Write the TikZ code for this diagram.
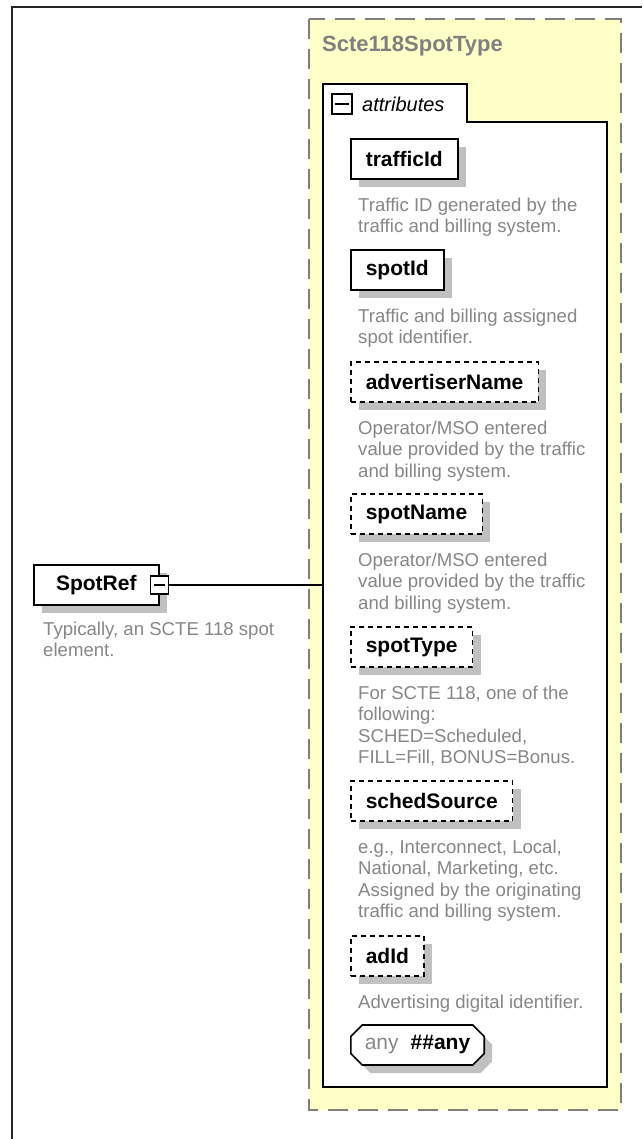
\documentclass[tikz,border=0pt]{standalone}
\usepackage{fontspec}
\setmainfont{Liberation Sans}
\usepackage{xcolor}
\usetikzlibrary{shadows}
\usetikzlibrary{shapes.misc}
\definecolor{typeyellow}{RGB}{255,255,200}
\definecolor{typegray}{RGB}{128,128,128}
\definecolor{descgray}{RGB}{135,135,135}
\definecolor{shadowgray}{RGB}{192,192,192}

\tikzset{
  attrbox/.style={draw, line width=1.6pt, fill=white, anchor=west,
    font=\bfseries\fontsize{21}{24}\selectfont, minimum height=40pt,
    inner xsep=15pt, inner ysep=0pt,
    general shadow={fill=shadowgray, shadow xshift=8pt, shadow yshift=-8pt}},
  optbox/.style={attrbox, dash pattern=on 5pt off 4pt},
  desc/.style={anchor=north west, inner sep=0pt, align=left, text=descgray,
    font=\fontsize{18.6}{21.5}\selectfont},
  minusbox/.style={draw, line width=1.4pt, fill=white, minimum size=#1,
    inner sep=0pt},
}

\begin{document}
\begin{tikzpicture}[x=1pt, y=-1pt]
\useasboundingbox (0,0) rectangle (642,1139);

% frame
\draw[line width=2pt, black!85] (12,1139) -- (12,7) -- (642,7);

% complex type
\draw[line width=2pt, draw=typegray, fill=typeyellow, dash pattern=on 20pt off 10pt]
  (309,19) rectangle (621,1110);
\node[anchor=base west, inner sep=0pt, text=typegray,
  font=\bfseries\fontsize{22}{24}\selectfont] (typename) at (322,52) {Scte118SpotType};

% attributes tab
\draw[line width=1.6pt, fill=white]
  (323,1087) -- (323,84) -- (467,84) -- (467,122) -- (607,122) -- (607,1087) -- cycle;
\node[minusbox=20pt] (attrminus) at (342,104) {};
\draw[line width=1.4pt] ([xshift=4pt]attrminus.west) -- ([xshift=-4pt]attrminus.east);
\node[anchor=west, inner sep=0pt, font=\itshape\fontsize{20}{22}\selectfont]
  (attrlabel) at (362,104) {attributes};
\coordinate (attrin) at (323,585);

% attributes (desc top = first baseline - 13.5)
\node[attrbox] (trafficid) at (350,159) {trafficId};
\node[desc] (trafficiddesc) at (358,197.5) {Traffic ID generated by the\\traffic and billing system.};

\node[attrbox] (spotid) at (350,270) {spotId};
\node[desc] (spotiddesc) at (358,308.5) {Traffic and billing assigned\\spot identifier.};

\node[optbox] (advname) at (350,382) {advertiserName};
\node[desc] (advnamedesc) at (358,420.5) {Operator/MSO entered\\value provided by the traffic\\and billing system.};

\node[optbox] (spotname) at (350,514) {spotName};
\node[desc] (spotnamedesc) at (358,552.5) {Operator/MSO entered\\value provided by the traffic\\and billing system.};

\node[optbox] (spottype) at (350,647) {spotType};
\node[desc] (spottypedesc) at (358,685.5) {For SCTE 118, one of the\\following:\\SCHED=Scheduled,\\FILL=Fill, BONUS=Bonus.};

\node[optbox] (schedsource) at (350,801) {schedSource};
\node[desc] (schedsourcedesc) at (358,839.5) {e.g., Interconnect, Local,\\National, Marketing, etc.\\Assigned by the originating\\traffic and billing system.};

\node[optbox] (adid) at (350,956) {adId};
\node[desc] (adiddesc) at (358,994.5) {Advertising digital identifier.};

\node[attrbox, chamfered rectangle, chamfered rectangle xsep=8pt,
  minimum width=125pt, inner xsep=6pt] (anyattr) at (350,1045)
  {{\mdseries\color{descgray}any}\hspace{12pt}\#\#any};

% element
\node[attrbox, minimum width=125pt, inner xsep=0pt] (spotref) at (33,585) {SpotRef\hspace{8pt}};
\node[minusbox=18pt] (refminus) at (spotref.east) {};
\draw[line width=1.4pt] ([xshift=4pt]refminus.west) -- ([xshift=-4pt]refminus.east);
\node[desc] (spotrefdesc) at (43,621.5) {Typically, an SCTE 118 spot\\element.};

\draw[line width=1.6pt] (refminus.east) -- (attrin);

\end{tikzpicture}
\end{document}
